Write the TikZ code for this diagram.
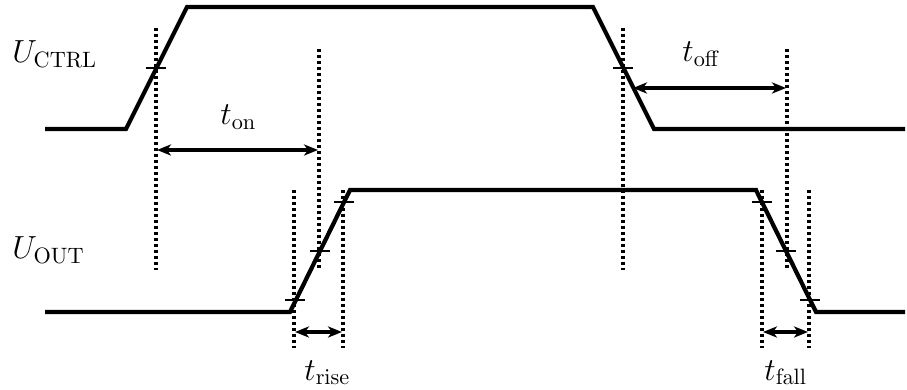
\documentclass[tikz,border=0pt]{standalone}
\usetikzlibrary{arrows.meta}
\begin{document}
\begin{tikzpicture}[x=0.45pt,y=-0.45pt,
  wave/.style={line width=1.9pt, line join=miter},
  guide/.style={line width=1.45pt, dash pattern=on 1.35pt off 1.35pt},
  tickmark/.style={line width=0.55pt},
  span/.style={line width=1.45pt, {Stealth[length=6.3pt,width=5pt,inset=1.8pt]}-{Stealth[length=6.3pt,width=5pt,inset=1.8pt]}},
  lbl/.style={inner sep=0pt, anchor=base west, font=\Large}]
\useasboundingbox (0,0) rectangle (907,390);
% guide lines
\coordinate (g1t) at (156,28);  \coordinate (g1b) at (156,270);
\coordinate (g2t) at (319,49);  \coordinate (g2b) at (319,270);
\coordinate (g3t) at (623,28);  \coordinate (g3b) at (623,270);
\coordinate (g4t) at (787,49);  \coordinate (g4b) at (787,270);
\coordinate (g5t) at (294,190); \coordinate (g5b) at (294,348);
\coordinate (g6t) at (343,190); \coordinate (g6b) at (343,348);
\coordinate (g7t) at (762,190); \coordinate (g7b) at (762,348);
\coordinate (g8t) at (809,190); \coordinate (g8b) at (809,348);
\foreach \g in {1,...,8} \draw[guide] (g\g t) -- (g\g b);
% waveforms
\coordinate (c1) at (45,129);  \coordinate (c2) at (126,129);
\coordinate (c3) at (187,7);   \coordinate (c4) at (593,7);
\coordinate (c5) at (654,129); \coordinate (c6) at (905,129);
\draw[wave] (c1) -- (c2) -- (c3) -- (c4) -- (c5) -- (c6);
\coordinate (o1) at (45,312);  \coordinate (o2) at (290,312);
\coordinate (o3) at (350,190); \coordinate (o4) at (756,190);
\coordinate (o5) at (816,312); \coordinate (o6) at (905,312);
\draw[wave] (o1) -- (o2) -- (o3) -- (o4) -- (o5) -- (o6);
% tick marks
\draw[tickmark] (146,68) -- (166,68);
\draw[tickmark] (613,68) -- (633,68);
\draw[tickmark] (285,300) -- (305,300);
\draw[tickmark] (310,251) -- (330,251);
\draw[tickmark] (334,202) -- (354,202);
\draw[tickmark] (752,202) -- (772,202);
\draw[tickmark] (776,251) -- (796,251);
\draw[tickmark] (800,300) -- (820,300);
% spans
\coordinate (a1) at (157,150); \coordinate (a2) at (318,150);
\draw[span] (a1) -- (a2);
\coordinate (b1) at (633,88); \coordinate (b2) at (786,88);
\draw[span] (b1) -- (b2);
\coordinate (r1) at (295,332); \coordinate (r2) at (342,332);
\draw[span] (r1) -- (r2);
\coordinate (f1) at (763,332); \coordinate (f2) at (808,332);
\draw[span] (f1) -- (f2);
% labels
\node[lbl] (uc) at (12,63) {$U_{\mathrm{CTRL}}$};
\node[lbl] (uo) at (12,259) {$U_{\mathrm{OUT}}$};
\node[lbl] (ton) at (220,125) {$t_{\mathrm{on}}$};
\node[lbl] (toff) at (682,62) {$t_{\mathrm{off}}$};
\node[lbl] (trise) at (304,380) {$t_{\mathrm{rise}}$};
\node[lbl] (tfall) at (764,380) {$t_{\mathrm{fall}}$};
\end{tikzpicture}
\end{document}
